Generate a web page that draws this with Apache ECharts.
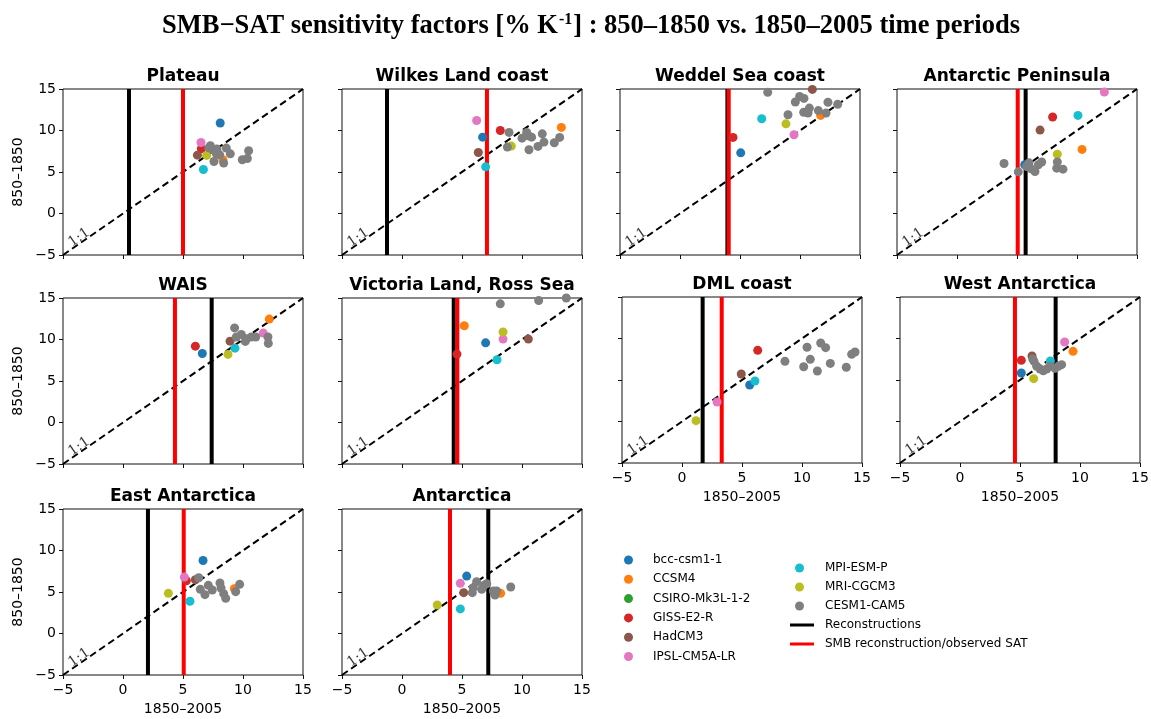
<!DOCTYPE html>
<html><head><meta charset="utf-8">
<script src="https://cdn.jsdelivr.net/npm/echarts@6/dist/echarts.min.js"></script>
<style>html,body{margin:0;padding:0;background:#fff}#c{width:1151px;height:719px}</style>
</head><body><div id="c"></div>
<script>
// ---------------- data ----------------
const panelTitles = ['Plateau','Wilkes Land coast','Weddel Sea coast','Antarctic Peninsula',
  'WAIS','Victoria Land, Ross Sea','DML coast','West Antarctica','East Antarctica','Antarctica'];
const tickValues = [-5, 0, 5, 10, 15];
// vertical lines (x positions, 1850–2005 sensitivity)
const reconstructions = [0.5, -1.25, 3.95, 5.72, 7.39, 4.31, 1.72, 7.97, 2.08, 7.19];
const smbObserved     = [5.0, 7.08, 4.06, 5.06, 4.33, 4.61, 3.31, 4.58, 5.06, 4.0];
// one model point per panel [1850–2005, 850–1850]; null = not visible
const bccCsm11 = [[8.1,10.9],[6.72,9.2],[5.06,7.31],[5.64,5.87],[6.61,8.32],[6.97,9.6],[5.64,4.4],[5.11,5.84],[6.67,8.8],[5.39,6.92]];
const ccsm4    = [[8.33,6.47],[13.28,10.37],[11.72,11.82],[10.42,7.72],[12.19,12.46],[5.19,11.66],null,[9.42,8.45],[9.28,5.4],[8.22,4.84]];
const csiroMk3l = [null,null,null,null,null,null,null,null,null,null];
const gissE2R  = [[6.53,7.8],[8.19,10.0],[4.42,9.17],[7.97,11.62],[6.03,9.2],[4.58,8.24],[6.31,8.57],[5.11,7.37],[5.28,6.36],null];
const hadCM3   = [[6.2,7.03],[6.36,7.35],[11.03,14.95],[6.92,10.05],[8.92,9.8],[10.53,10.05],[4.94,5.72],[6.0,7.89],[6.03,6.48],[5.14,4.92]];
const ipslCM5A = [[6.5,8.56],[6.22,11.2],[9.5,9.49],[12.28,14.64],[11.69,10.77],[8.42,10.05],[2.92,2.35],[8.72,9.58],[5.11,6.8],[4.86,6.04]];
const mpiEsmP  = [[6.7,5.3],[6.97,5.62],[6.81,11.42],[10.08,11.82],[9.33,8.96],[7.92,7.56],[6.08,4.88],[7.53,7.29],[5.58,3.88],[4.86,2.96]];
const mriCGCM3 = [[6.97,7.0],[9.11,8.12],[8.83,10.8],[8.36,7.15],[8.75,8.2],[8.42,10.9],[1.17,0.1],[6.14,5.16],[3.78,4.84],[2.94,3.44]];
// CESM1-CAM5 ensemble members per panel
const cesm1Cam5 = [
  [[7.28,8.16],[7.5,7.68],[7.83,7.76],[8.06,7.07],[7.78,7.19],[8.61,7.88],[8.94,7.19],[7.58,6.27],[8.39,6.07],[9.94,6.47],[10.36,6.63],[10.47,7.56],[7.15,7.9]],
  [[8.92,9.77],[8.78,8.0],[10.0,9.08],[10.39,9.77],[10.53,9.37],[10.8,9.2],[11.69,9.6],[10.58,7.68],[11.33,8.08],[11.83,8.6],[12.69,8.52],[13.14,9.17]],
  [[7.31,14.6],[9.0,11.9],[9.61,13.43],[9.97,14.1],[10.33,13.87],[10.31,12.2],[10.67,12.1],[10.78,12.7],[11.53,12.4],[12.17,12.1],[12.33,13.4],[13.14,13.15]],
  [[3.92,6.03],[5.11,5.02],[5.8,5.66],[6.0,6.1],[6.14,5.4],[6.5,5.06],[6.78,5.87],[7.06,6.2],[8.36,6.2],[8.31,5.46],[8.83,5.34]],
  [[9.3,11.4],[9.44,10.3],[9.86,10.6],[10.19,9.77],[10.28,10.1],[10.69,10.3],[11.06,10.3],[12.08,10.3],[12.11,9.53]],
  [[8.19,14.3],[11.39,14.7],[13.69,15.0]],
  [[8.58,7.25],[10.14,6.6],[10.42,8.94],[10.69,7.49],[11.28,6.08],[11.56,9.46],[11.97,8.9],[12.36,7.0],[13.69,6.53],[14.14,8.1],[14.42,8.37]],
  [[6.06,7.53],[6.17,7.25],[6.39,6.65],[6.67,6.33],[6.94,6.12],[7.22,6.33],[7.5,6.65],[7.92,6.41],[8.19,6.65],[8.47,6.85]],
  [[6.31,6.72],[6.44,5.32],[6.83,4.68],[7.11,5.8],[7.44,5.24],[8.08,6.08],[8.17,5.48],[8.39,4.8],[8.56,4.24],[9.39,5.04],[9.72,5.92]],
  [[5.86,4.92],[5.94,5.52],[6.22,6.24],[6.64,5.32],[6.83,5.8],[7.06,6.0],[7.61,5.12],[7.75,4.64],[7.89,5.12],[9.06,5.6]]
];
const oneToOneLine = [[-5,-5],[15,15]];
const oneToOneLabelAt = [-3.65, -2.9];

// ---------------- styling / layout ----------------
const models = [
  {name:'bcc-csm1-1', color:'#1f77b4', data:bccCsm11},
  {name:'CCSM4', color:'#ff7f0e', data:ccsm4},
  {name:'CSIRO-Mk3L-1-2', color:'#2ca02c', data:csiroMk3l},
  {name:'GISS-E2-R', color:'#d62728', data:gissE2R},
  {name:'HadCM3', color:'#8c564b', data:hadCM3},
  {name:'IPSL-CM5A-LR', color:'#e377c2', data:ipslCM5A},
  {name:'MPI-ESM-P', color:'#17becf', data:mpiEsmP},
  {name:'MRI-CGCM3', color:'#bcbd22', data:mriCGCM3}
];
const gridBoxes = [[63,89],[342,89],[620,89],[897,89],[63,298],[342,298],[622,297],[900,297],[63,509],[342,509]];
const GW = 240, GH = 166;
const showY = [1,0,0,0,1,0,0,0,1,0];
const showX = [0,0,0,0,0,0,1,1,1,1];
const FONT = 'DejaVu Sans';
const fmt = v => String(v).replace('-', '\u2212');

const grids = [], xAxes = [], yAxes = [], series = [], graphics = [];
gridBoxes.forEach((b, i) => {
  grids.push({left:b[0], top:b[1], width:GW, height:GH, show:true, borderColor:'#111', borderWidth:1,
    backgroundColor:'rgba(0,0,0,0)', containLabel:false, outerBoundsMode:'none'});
  xAxes.push({type:'value', gridIndex:i, min:-5, max:15, interval:5,
    axisLine:{show:false, onZero:false}, splitLine:{show:false},
    axisTick:{show:true, length:4, lineStyle:{color:'#111'}},
    axisLabel:{show:!!showX[i], margin:8, fontSize:14, fontFamily:FONT, color:'#000', formatter:fmt},
    name: showX[i] ? '1850–2005' : '', nameLocation:'middle', nameGap:27,
    nameTextStyle:{fontSize:14, fontFamily:FONT, color:'#000'}});
  yAxes.push({type:'value', gridIndex:i, min:-5, max:15, interval:5,
    axisLine:{show:false, onZero:false}, splitLine:{show:false},
    axisTick:{show:true, length:4, lineStyle:{color:'#111'}},
    axisLabel:{show:!!showY[i], margin:7, fontSize:14, fontFamily:FONT, color:'#000', formatter:fmt},
    name: showY[i] ? '850–1850' : '', nameLocation:'middle', nameGap:38,
    nameTextStyle:{fontSize:14, fontFamily:FONT, color:'#000'}});
  // 1:1 line
  series.push({type:'line', xAxisIndex:i, yAxisIndex:i, data:oneToOneLine, symbol:'none', silent:true, z:2,
    lineStyle:{color:'#000', width:2, type:[7,4]}});
  series.push({type:'scatter', xAxisIndex:i, yAxisIndex:i, data:[oneToOneLabelAt], symbolSize:1, silent:true, z:2,
    itemStyle:{color:'rgba(0,0,0,0)'},
    label:{show:true, position:'inside', formatter:'1:1', rotate:35, fontFamily:'DejaVu Serif', fontSize:14, color:'#000'}});
  // vertical lines
  series.push({name:'Reconstructions', type:'line', xAxisIndex:i, yAxisIndex:i, symbol:'none', z:3,
    data:[[reconstructions[i],-5],[reconstructions[i],15]], itemStyle:{color:'#000'}, lineStyle:{color:'#000', width:4}});
  series.push({name:'SMB reconstruction/observed SAT', type:'line', xAxisIndex:i, yAxisIndex:i, symbol:'none', z:4,
    data:[[smbObserved[i],-5],[smbObserved[i],15]], itemStyle:{color:'#ff0000'}, lineStyle:{color:'#ff0000', width:4}});
  models.forEach((m, k) => {
    series.push({name:m.name, type:'scatter', xAxisIndex:i, yAxisIndex:i, symbolSize:9, z:5,
      data: m.data[i] ? [m.data[i]] : [], itemStyle:{color:m.color, opacity:1}});
  });
  series.push({name:'CESM1-CAM5', type:'scatter', xAxisIndex:i, yAxisIndex:i, symbolSize:9, z:6,
    data:cesm1Cam5[i], itemStyle:{color:'#7f7f7f', opacity:1}});
  graphics.push({type:'text', x:b[0]+GW/2, y:b[1]-12, silent:true,
    style:{text:panelTitles[i], font:'bold 17px "DejaVu Sans"', fill:'#000', align:'center', verticalAlign:'middle',
      textAlign:'center', textVerticalAlign:'middle'}});
});

graphics.push({type:'text', x:591, y:26, silent:true,
  style:{text:'{a|SMB\u2212SAT sensitivity factors [% K}{s|-1}{a|] : 850\u20131850 vs. 1850\u20132005 time periods}',
    align:'center', verticalAlign:'middle', textAlign:'center', textVerticalAlign:'middle',
    rich:{a:{fontFamily:'Liberation Serif', fontWeight:'bold', fontSize:26.5, fill:'#000'},
          s:{fontFamily:'Liberation Serif', fontWeight:'bold', fontSize:16, fill:'#000', padding:[0,1,13,1]}}}});

const legendText = {fontFamily:FONT, fontSize:12, color:'#000', lineHeight:14};
const option = {
  animation:false,
  backgroundColor:'#fff',
  grid:grids, xAxis:xAxes, yAxis:yAxes, series:series, graphic:graphics,
  legend:[
    {data:['bcc-csm1-1','CCSM4','CSIRO-Mk3L-1-2','GISS-E2-R','HadCM3','IPSL-CM5A-LR'], orient:'vertical',
     left:624, top:553, padding:0, itemGap:5.3, itemWidth:9, itemHeight:9, icon:'circle', selectedMode:false,
     textStyle:Object.assign({padding:[0,0,0,15]}, legendText)},
    {data:['MPI-ESM-P','MRI-CGCM3','CESM1-CAM5'], orient:'vertical',
     left:795, top:561, padding:0, itemGap:5, itemWidth:9, itemHeight:9, icon:'circle', selectedMode:false,
     textStyle:Object.assign({padding:[0,0,0,16]}, legendText)},
    {data:['Reconstructions','SMB reconstruction/observed SAT'], orient:'vertical',
     left:790, top:618, padding:0, itemGap:5, itemWidth:24, itemHeight:3, icon:'rect', selectedMode:false,
     textStyle:Object.assign({padding:[0,0,0,6]}, legendText)}
  ]
};
const chart = echarts.init(document.getElementById('c'), null, {renderer:'canvas'});
chart.setOption(option);
</script></body></html>
